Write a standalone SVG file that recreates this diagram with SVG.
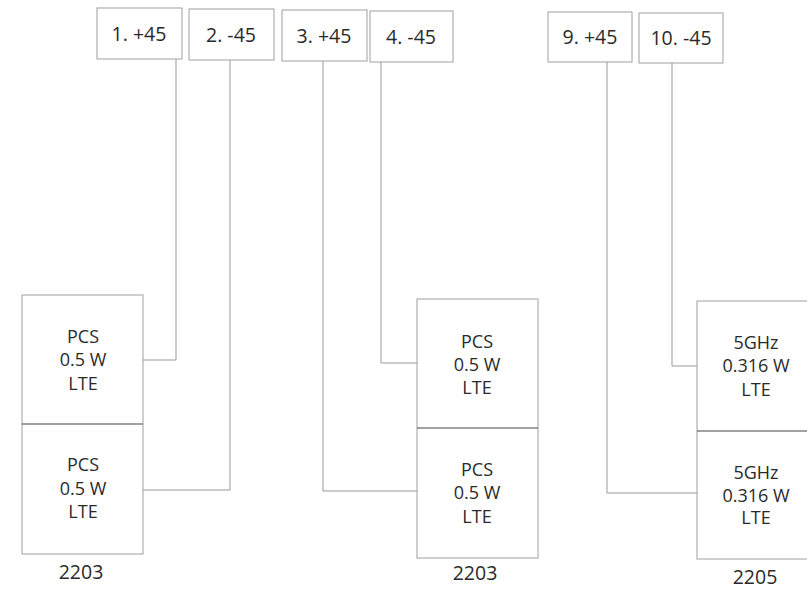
<svg xmlns="http://www.w3.org/2000/svg" width="807" height="591" viewBox="0 0 807 591">
<style>
.box{fill:#fff;stroke:#a0a0a0;stroke-width:1}
.div{stroke:#444;stroke-width:1.2}
.con{fill:none;stroke:#999;stroke-width:1}
text{font-family:"Open Sans","Liberation Sans",sans-serif;font-size:18px;fill:#2a2a2a;text-anchor:middle}
.top{font-size:19.5px}
</style>
<rect width="807" height="591" fill="#fff"/>
<g id="connectors">
<path class="con" d="M176,59 V360 H143"/>
<path class="con" d="M230,60 V490 H142"/>
<path class="con" d="M381,62 V363 H417"/>
<path class="con" d="M323,61 V491 H417"/>
<path class="con" d="M672,63 V366 H697"/>
<path class="con" d="M607,62 V493 H697"/>
</g>
<g id="port1"><rect class="box" x="97" y="8" width="85" height="51"/><text class="top" x="139" y="41">1. +45</text></g>
<g id="port2"><rect class="box" x="189" y="9" width="85" height="51"/><text class="top" x="231" y="42">2. -45</text></g>
<g id="port3"><rect class="box" x="282" y="10" width="85" height="51"/><text class="top" x="324" y="43">3. +45</text></g>
<g id="port4"><rect class="box" x="370" y="11" width="83" height="51"/><text class="top" x="411" y="44">4. -45</text></g>
<g id="port9"><rect class="box" x="548" y="12" width="84" height="50"/><text class="top" x="590" y="44">9. +45</text></g>
<g id="port10"><rect class="box" x="639" y="13" width="84" height="50"/><text class="top" x="681" y="45">10. -45</text></g>
<g id="unit2203a">
<rect class="box" x="22" y="295" width="121" height="259"/>
<line class="div" x1="22" y1="424" x2="143" y2="424"/>
<text x="83" y="343">PCS</text><text x="83" y="366">0.5 W</text><text x="83" y="390">LTE</text>
<text x="83" y="471">PCS</text><text x="83" y="495">0.5 W</text><text x="83" y="518">LTE</text>
<text class="top" x="81" y="579">2203</text>
</g>
<g id="unit2203b">
<rect class="box" x="417" y="299" width="121" height="259"/>
<line class="div" x1="417" y1="428" x2="538" y2="428"/>
<text x="477" y="348">PCS</text><text x="477" y="371">0.5 W</text><text x="477" y="394">LTE</text>
<text x="477" y="476">PCS</text><text x="477" y="499">0.5 W</text><text x="477" y="523">LTE</text>
<text class="top" x="475" y="580">2203</text>
</g>
<g id="unit2205">
<rect class="box" x="697" y="301" width="120" height="258"/>
<line class="div" x1="697" y1="431" x2="807" y2="431"/>
<text x="756" y="349">5GHz</text><text x="756" y="372">0.316 W</text><text x="756" y="396">LTE</text>
<text x="756" y="479">5GHz</text><text x="756" y="502">0.316 W</text><text x="756" y="524">LTE</text>
<text class="top" x="755" y="584">2205</text>
</g>
</svg>
